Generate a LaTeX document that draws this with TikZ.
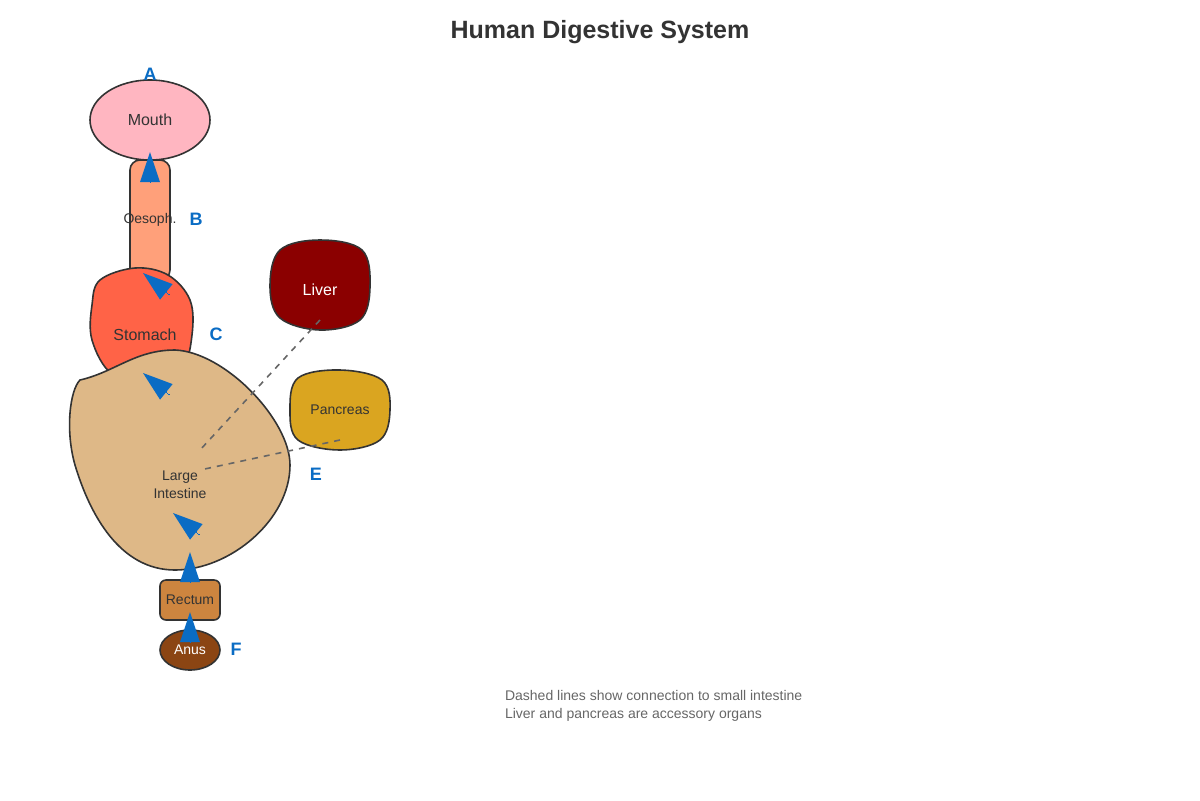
\documentclass[tikz,border=0pt]{standalone}
\usepackage{fontspec}
\setmainfont{Liberation Sans}
\usepackage{tikz}
\usetikzlibrary{arrows.meta,positioning,shapes,calc}
\definecolor{organline}{HTML}{333333}
\definecolor{letterblue}{HTML}{0A6CC4}
\definecolor{notegray}{HTML}{666666}
\tikzset{
  organ/.style={draw=organline, line width=0.8pt},
  lbl/.style={font=\fontsize{8}{9}\selectfont, text=organline},
  letter/.style={font=\bfseries\fontsize{9}{10}\selectfont, text=letterblue},
  flow/.style={line width=0pt, letterblue, -{Triangle[length=15pt, width=10pt]}},
  link/.style={dashed, notegray, line width=0.8pt}
}
\begin{document}
\begin{tikzpicture}[x=0.5pt, y=-0.5pt]
    \useasboundingbox (0,0) rectangle (1200,800);
    \node[font=\bfseries\fontsize{12.5}{14}\selectfont, text=organline] (title) at (600,32) {Human Digestive System};

    % Oesophagus and mouth
    \draw[organ, fill={rgb,255:red,255;green,160;blue,122}, rounded corners=5pt] (130,160) rectangle (170,280);
    \draw[organ, fill={rgb,255:red,255;green,182;blue,193}] (150,120) ellipse [x radius=60, y radius=40];

    % Stomach
    \draw[organ, fill={rgb,255:red,255;green,99;blue,71}] plot[smooth cycle, tension=0.6] coordinates
        {(100,280) (135,268) (168,275) (190,300) (192,335) (182,368) (150,382) (112,374) (92,340) (92,305)};

    % Large intestine
    \draw[organ, fill={rgb,255:red,222;green,184;blue,135}] (80,380)
        .. controls (115,372) and (135,350) .. (175,350)
        .. controls (225,352) and (290,420) .. (290,465)
        .. controls (290,520) and (230,570) .. (175,570)
        .. controls (120,570) and (90,515) .. (75,465)
        .. controls (65,430) and (70,390) .. cycle;

    % Accessory organs
    \draw[organ, fill={rgb,255:red,139;green,0;blue,0}] plot[smooth cycle, tension=0.6] coordinates
        {(280,250) (320,240) (362,250) (370,287) (360,320) (320,330) (280,318) (270,286)};
    \draw[organ, fill={rgb,255:red,218;green,165;blue,32}] plot[smooth cycle, tension=0.6] coordinates
        {(298,378) (340,370) (382,380) (390,410) (380,440) (340,450) (298,440) (290,410)};

    % Rectum and anus
    \draw[organ, fill={rgb,255:red,205;green,133;blue,63}, rounded corners=3pt] (160,580) rectangle (220,620);
    \draw[organ, fill={rgb,255:red,139;green,69;blue,19}] (190,650) ellipse [x radius=30, y radius=20];

    % Labels
    \node[lbl] (mouth) at (150,120) {Mouth};
    \node[lbl, font=\fontsize{7}{8}\selectfont] (oesoph) at (150,220) {Oesoph.};
    \node[lbl] (stomach) at (145,335) {Stomach};
    \node[lbl, align=center, font=\fontsize{7}{9}\selectfont] (large) at (180,485) {Large\\Intestine};
    \node[lbl, text=white] (liver) at (320,290) {Liver};
    \node[lbl, font=\fontsize{7}{8}\selectfont] (pancreas) at (340,410) {Pancreas};
    \node[lbl, font=\fontsize{7}{8}\selectfont] (rectum) at (190,600) {Rectum};
    \node[lbl, text=white, font=\fontsize{7}{8}\selectfont] (anus) at (190,650) {Anus};

    \node[letter] (lA) at (150,74) {A};
    \node[letter] (lB) at (196,219) {B};
    \node[letter] (lC) at (216,334) {C};
    \node[letter] (lE) at (316,474) {E};
    \node[letter] (lF) at (236,649) {F};

    % Links to small intestine
    \coordinate (si1) at (200,450);
    \coordinate (si2) at (200,470);
    \coordinate (liverEnd) at (320,320);
    \coordinate (pancEnd) at (340,440);
    \draw[link] (liverEnd) -- (si1);
    \draw[link] (pancEnd) -- (si2);

    % Flow arrowheads
    \coordinate (t1) at (150,152); \coordinate (s1) at (150,182);
    \coordinate (t2) at (143,273); \coordinate (s2) at (169,294);
    \coordinate (t3) at (143,373); \coordinate (s3) at (169,394);
    \coordinate (t4) at (173,513); \coordinate (s4) at (199,534);
    \coordinate (t5) at (190,552); \coordinate (s5) at (190,582);
    \coordinate (t6) at (190,612); \coordinate (s6) at (190,642);
    \foreach \i in {1,...,6} {
        \draw[flow] (s\i) -- (t\i);
    }

    % Notes
    \node[anchor=west, text=notegray, font=\fontsize{7}{8}\selectfont] (note1) at (498,695) {Dashed lines show connection to small intestine};
    \node[anchor=west, text=notegray, font=\fontsize{7}{8}\selectfont] (note2) at (498,715) {Liver and pancreas are accessory organs};
\end{tikzpicture}
\end{document}
